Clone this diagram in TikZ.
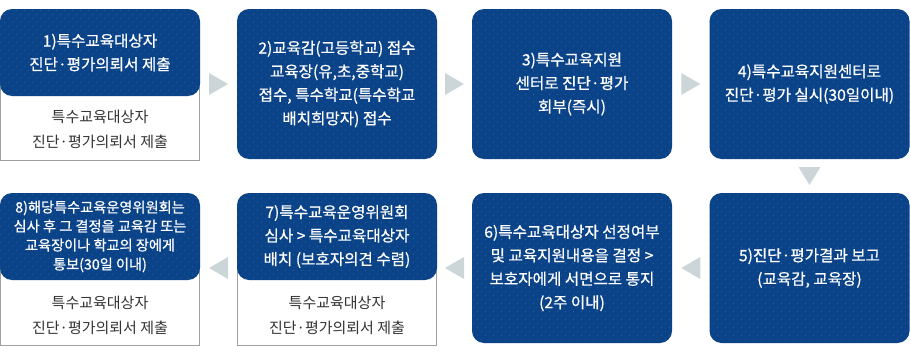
\documentclass[tikz,border=0pt]{standalone}
\usepackage{fontspec}
\setmainfont{Noto Sans CJK KR}
\newfontfamily\bluefont[FakeBold=0.7]{Noto Sans CJK KR}
\usetikzlibrary{calc,patterns}
\definecolor{boxblue}{HTML}{0B4389}
\definecolor{dotblue}{HTML}{4470AA}
\definecolor{arrowcol}{HTML}{CCD6D8}
\definecolor{bordergray}{HTML}{A0A0A0}
\definecolor{txtgray}{HTML}{333333}
\pgfdeclarepatternformonly{bluedots}{\pgfqpoint{0pt}{0pt}}{\pgfqpoint{8pt}{8pt}}{\pgfqpoint{8pt}{8pt}}{%
  \pgfpathcircle{\pgfqpoint{2pt}{2pt}}{0.5pt}%
  \pgfpathcircle{\pgfqpoint{6pt}{6pt}}{0.5pt}%
  \pgfusepath{fill}}
\tikzset{
  bluebox/.style={rounded corners=12pt, fill=boxblue,
    postaction={pattern=bluedots, pattern color=dotblue},
    text=white, align=center, inner sep=0pt, minimum width=200pt,
    font=\bluefont\fontsize{15.6}{23.5}\selectfont},
  whitebox/.style={draw=bordergray, line width=1pt, fill=white,
    inner sep=0pt, minimum width=199pt, minimum height=80pt},
  greytext/.style={text=txtgray, align=center, inner sep=0pt,
    font=\fontsize{15}{25}\selectfont},
  rtri/.pic={\fill[arrowcol] (-9.5,-11) -- (9.5,0) -- (-9.5,11) -- cycle;},
  ltri/.pic={\fill[arrowcol] (9.5,-11) -- (-9.5,0) -- (9.5,11) -- cycle;},
  dtri/.pic={\fill[arrowcol] (-11,-9) -- (11,-9) -- (0,9) -- cycle;}
}
\begin{document}
\begin{tikzpicture}[x=1pt,y=-1pt]
\useasboundingbox (0,0) rectangle (910,356);
% row 1
\node[whitebox] (w1) at (100,120) {};
\node[bluebox, minimum height=87pt] (b1) at (100,52.5) {1)특수교육대상자\\진단·평가의뢰서 제출};
\node[greytext] (t1) at (100,129.5) {특수교육대상자\\진단·평가의뢰서 제출};
\node[bluebox, minimum height=150pt] (b2) at (337,84) {2)교육감(고등학교) 접수\\교육장(유,초,중학교)\\접수, 특수학교(특수학교\\배치희망자) 접수};
\node[bluebox, minimum height=150pt] (b3) at (572,84) {3)특수교육지원\\센터로 진단·평가\\회부(즉시)};
\node[bluebox, minimum height=150pt] (b4) at (809.5,84) {4)특수교육지원센터로\\진단·평가 실시(30일이내)};
% row 2
\node[bluebox, minimum height=150pt] (b5) at (809.5,268) {5)진단·평가결과 보고\\(교육감, 교육장)};
\node[bluebox, minimum height=150pt] (b6) at (572,268) {6)특수교육대상자 선정여부\\및 교육지원내용을 결정 >\\보호자에게 서면으로 통지\\(2주 이내)};
\node[whitebox] (w7) at (337,305) {};
\node[bluebox, minimum height=87pt] (b7) at (337,236.5) {7)특수교육운영위원회\\심사 > 특수교육대상자\\배치 (보호자의견 수렴)};
\node[greytext] (t7) at (337,315.5) {특수교육대상자\\진단·평가의뢰서 제출};
\node[whitebox] (w8) at (100,305) {};
\node[bluebox, minimum height=87pt, font=\bluefont\fontsize{14.2}{19}\selectfont] (b8) at (100,236.5) {8)해당특수교육운영위원회는\\심사 후 그 결정을 교육감 또는\\교육장이나 학교의 장에게\\통보(30일 이내)};
\node[greytext] (t8) at (100,315) {특수교육대상자\\진단·평가의뢰서 제출};
% arrows
\coordinate (a12) at ($(b1.east |- b2.west)!0.5!(b2.west)$);
\coordinate (a23) at ($(b2.east)!0.5!(b3.west)$);
\coordinate (a34) at ($(b3.east)!0.5!(b4.west)$);
\coordinate (a45) at ($(b4.south)!0.5!(b5.north)$);
\coordinate (a56) at ($(b5.west)!0.5!(b6.east)$);
\coordinate (a67) at ($(b6.west)!0.5!(b7.east |- b6.west)$);
\coordinate (a78) at ($(b7.west |- b6.west)!0.5!(b8.east |- b6.west)$);
\pic at (a12) {rtri};
\pic at (a23) {rtri};
\pic at (a34) {rtri};
\pic at (a45) {dtri};
\pic at (a56) {ltri};
\pic at (a67) {ltri};
\pic at (a78) {ltri};
\end{tikzpicture}
\end{document}
